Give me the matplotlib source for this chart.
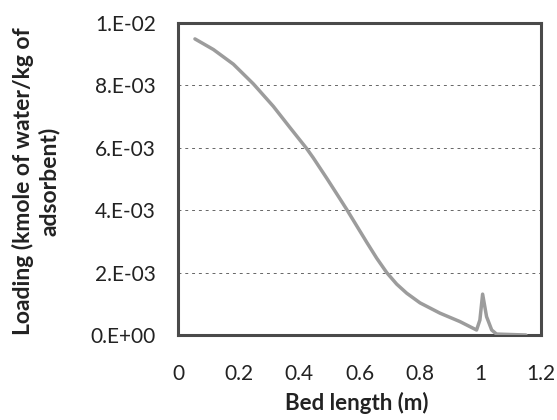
import matplotlib
matplotlib.use("Agg")
import matplotlib.pyplot as plt

bed_length = [0.056, 0.117, 0.183, 0.249, 0.315, 0.37, 0.425, 0.447, 0.492, 0.535,
              0.558, 0.624, 0.657, 0.69, 0.723, 0.756, 0.80, 0.866, 0.932, 0.987,
              0.998, 1.007, 1.02, 1.037, 1.053, 1.15]
loading = [0.00949, 0.00915, 0.00868, 0.00805, 0.00733, 0.00665, 0.00598, 0.00568, 0.00502, 0.00437,
           0.00402, 0.00297, 0.00246, 0.00200, 0.00163, 0.00134, 0.00103, 0.0007, 0.00043, 0.00016,
           0.00048, 0.00131, 0.00059, 0.00016, 0.00003, 0.0]

x_ticks = [0, 0.2, 0.4, 0.6, 0.8, 1, 1.2]
x_tick_labels = ["0", "0.2", "0.4", "0.6", "0.8", "1", "1.2"]
y_ticks = [0, 0.002, 0.004, 0.006, 0.008, 0.01]
y_tick_labels = ["0.E+00", "2.E-03", "4.E-03", "6.E-03", "8.E-03", "1.E-02"]

plt.rcParams['font.family'] = ['Lato', 'DejaVu Sans']

W, H = 557, 420
fig = plt.figure(figsize=(W / 100, H / 100), dpi=100)
L, R, T, B = 178, 541, 23, 335
ax = fig.add_axes([L / W, 1 - B / H, (R - L) / W, (B - T) / H])

ax.plot(bed_length, loading, color='#9c9c9c', lw=2.5, solid_capstyle='round',
        solid_joinstyle='round', zorder=3)

ax.set_xlim(0, 1.2)
ax.set_ylim(0, 0.01)
ax.set_xticks(x_ticks)
ax.set_xticklabels(x_tick_labels)
ax.set_yticks(y_ticks)
ax.set_yticklabels(y_tick_labels)
ax.tick_params(axis='both', labelsize=15, colors='#222222', length=0)
ax.tick_params(axis='x', pad=21)
ax.tick_params(axis='y', pad=16)

ax.yaxis.grid(True, linestyle=(0, (3, 4)), color='#666666', lw=0.7)
ax.set_axisbelow(True)

for s in ax.spines.values():
    s.set_linewidth(2.2)
    s.set_color('#4a4a4a')

fig.text(357 / W, 1 - 403 / H, "Bed length (m)", fontsize=16, fontweight='bold',
         ha='center', va='center', color='#222222')
fig.text(36 / W, 1 - 181 / H, "Loading (kmole of water/kg of\nadsorbent)", fontsize=16.5,
         fontweight='bold', rotation=90, ha='center', va='center',
         multialignment='center', color='#222222', linespacing=1.25)

fig.savefig("out.png", dpi=100)
